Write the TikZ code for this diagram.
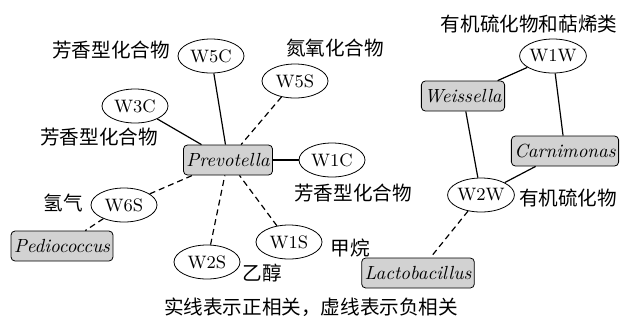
\documentclass[tikz,border=0pt]{standalone}
\usepackage{fontspec}
\newfontfamily\cjk{Noto Sans CJK SC}
\usetikzlibrary{shapes.geometric}

\begin{document}
\begin{tikzpicture}[x=0.5pt,y=-0.5pt,
	gas/.style={draw,ellipse,inner sep=0pt,minimum width=33pt,minimum height=17pt,font=\fontsize{9}{11}\selectfont},
	genus/.style={draw,rounded corners=2pt,fill=gray!35,inner xsep=1.5pt,inner ysep=0pt,minimum height=15pt,font=\fontsize{9.5}{11}\itshape},
	note/.style={inner sep=0pt,font=\cjk\fontsize{9.8}{12}\selectfont},
	poslink/.style={semithick},
	neglink/.style={semithick,densely dashed}]
	\useasboundingbox (0,0) rectangle (621,323);
	
	\node[genus] (Prev) at (228,160) {Prevotella};
	\node[genus] (Pedi) at (62,246) {Pediococcus};
	\node[genus] (Weis) at (463,96) {Weissella};
	\node[genus] (Carn) at (565,151) {Carnimonas};
	\node[genus] (Lact) at (418,273) {Lactobacillus};
	
	\node[gas] (W5C) at (211,56) {W5C};
	\node[gas] (W5S) at (295,81) {W5S};
	\node[gas] (W3C) at (135,106) {W3C};
	\node[gas] (W1C) at (332,160) {W1C};
	\node[gas] (W6S) at (124,205) {W6S};
	\node[gas] (W2S) at (207,262) {W2S};
	\node[gas] (W1S) at (289,242) {W1S};
	\node[gas] (W1W) at (553,56) {W1W};
	\node[gas] (W2W) at (481,195) {W2W};
	
	\node[note] (L5C) at (111,50) {芳香型化合物};
	\node[note] (L5S) at (335,48) {氮氧化合物};
	\node[note] (L3C) at (99,137) {芳香型化合物};
	\node[note] (L1C) at (353,193) {芳香型化合物};
	\node[note] (L6S) at (63,203) {氢气};
	\node[note] (L2S) at (262,273) {乙醇};
	\node[note] (L1S) at (350,248) {甲烷};
	\node[note] (L1W) at (529,24) {有机硫化物和萜烯类};
	\node[note] (L2W) at (568,198) {有机硫化物};
	\node[note] (Cap) at (311,307) {实线表示正相关，虚线表示负相关};
	
	\draw[poslink] (W5C) -- (Prev);
	\draw[poslink] (W3C) -- (Prev);
	\draw[poslink] (W1C) -- (Prev);
	\draw[neglink] (W5S) -- (Prev);
	\draw[neglink] (W6S) -- (Prev);
	\draw[neglink] (W6S) -- (Pedi);
	\draw[neglink] (W2S) -- (Prev);
	\draw[neglink] (W1S) -- (Prev);
	\draw[poslink] (W1W) -- (Weis);
	\draw[poslink] (W1W) -- (Carn);
	\draw[poslink] (Weis) -- (W2W);
	\draw[poslink] (Carn) -- (W2W);
	\draw[neglink] (W2W) -- (Lact);
\end{tikzpicture}
\end{document}
